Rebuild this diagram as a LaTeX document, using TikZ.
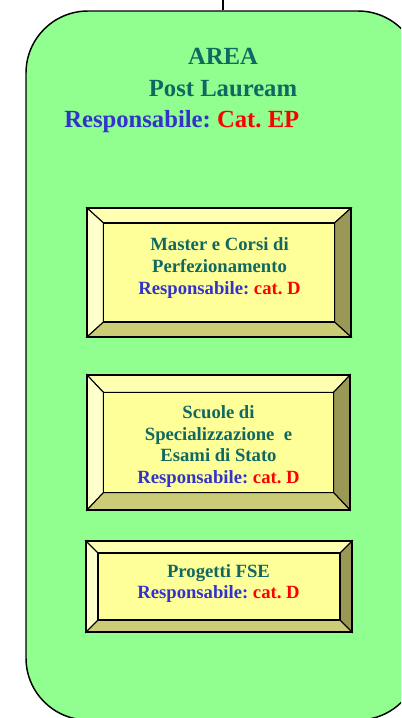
\documentclass[tikz,border=0pt]{standalone}
\usepackage{fontspec}
\setmainfont{Liberation Serif}
\usetikzlibrary{positioning}
\frenchspacing

\definecolor{areagreen}{RGB}{144,255,144}
\definecolor{titleteal}{RGB}{16,104,96}
\definecolor{respblue}{RGB}{51,51,204}
\definecolor{respred}{RGB}{255,0,0}
\definecolor{facey}{RGB}{255,255,153}
\definecolor{topy}{RGB}{255,255,178}
\definecolor{lefty}{RGB}{255,255,204}
\definecolor{righty}{RGB}{153,153,85}
\definecolor{bottomy}{RGB}{204,204,119}

\tikzset{
  areabox/.style={draw=black,line width=1.1pt,fill=areagreen,rounded corners=46.5pt,inner sep=0pt},
  bevelline/.style={draw=black,line width=0.8pt,line join=miter},
  boxtext/.style={align=center,font=\fontsize{14}{16.2}\selectfont\bfseries,text=titleteal,inner sep=0pt}
}

% bevelled panel: x1,y1,x2,y2 (outer), bevel dx, bevel dy
\newcommand{\bevelbox}[6]{
  \filldraw[bevelline,fill=topy] (#1,#2) -- (#3,#2) -- ({#3-#5},{#2+#6}) -- ({#1+#5},{#2+#6}) -- cycle;
  \filldraw[bevelline,fill=lefty] (#1,#2) -- ({#1+#5},{#2+#6}) -- ({#1+#5},{#4-#6}) -- (#1,#4) -- cycle;
  \filldraw[bevelline,fill=righty] (#3,#2) -- (#3,#4) -- ({#3-#5},{#4-#6}) -- ({#3-#5},{#2+#6}) -- cycle;
  \filldraw[bevelline,fill=bottomy] (#1,#4) -- (#3,#4) -- ({#3-#5},{#4-#6}) -- ({#1+#5},{#4-#6}) -- cycle;
  \filldraw[bevelline,fill=facey] ({#1+#5},{#2+#6}) rectangle ({#3-#5},{#4-#6});
  \draw[black,line width=1.1pt] (#1,#2) rectangle (#3,#4);
}

\newcommand{\resp}[1]{\textcolor{respblue}{Responsabile:} \textcolor{respred}{#1}}

\begin{document}
\begin{tikzpicture}[x=0.75pt,y=-0.75pt]
\useasboundingbox (0,0) rectangle (401,718);
\clip (0,0) rectangle (401,718);

% green area
\node[areabox,minimum width=295.5pt,minimum height=531.75pt] (area) at (223,365.5) {};
\coordinate (up) at (223,-2);
\draw[black,line width=1pt] (area.north) -- (up);

\node[align=center,font=\fontsize{18.5}{24}\selectfont\bfseries,text=titleteal,inner sep=0pt]
  (title) at (223,73) {AREA\\Post Lauream};
\node[anchor=base west,font=\fontsize{18.5}{24}\selectfont\bfseries,inner sep=0pt]
  (arearesp) at (64,127) {\resp{Cat. EP}};

% panels
\bevelbox{87}{208}{351}{337}{16.5}{15}
\node[boxtext] (master) at (219.5,268) {Master e Corsi di\\Perfezionamento\\\resp{cat. D}};

\bevelbox{87}{375}{350}{510}{16.5}{17.5}
\node[boxtext] (scuole) at (218.5,446.5) {Scuole di\\Specializzazione\ \ e\\Esami di Stato\\\resp{cat. D}};

\bevelbox{86}{541}{352}{632}{12}{12}
\node[boxtext] (fse) at (218.5,583.5) {Progetti FSE\\\resp{cat. D}};
\end{tikzpicture}
\end{document}
